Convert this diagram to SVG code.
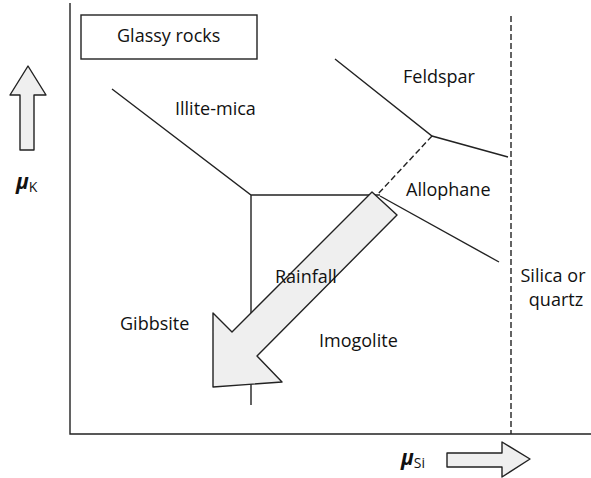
<svg xmlns="http://www.w3.org/2000/svg" width="591" height="478" viewBox="0 0 591 478">
<style>
.t{font-family:"Open Sans","Liberation Sans",sans-serif;font-size:18px;fill:#111}
.ln{stroke:#222;stroke-width:1.4;fill:none}
.ds{stroke:#222;stroke-width:1.4;fill:none;stroke-dasharray:6,3}
.ar{fill:#efefef;stroke:#222;stroke-width:1.4;stroke-linejoin:round}
.mu{font-family:"Open Sans","Liberation Sans",sans-serif;font-style:italic;font-weight:bold;font-size:21px;fill:#111}
.sub{font-family:"Open Sans","Liberation Sans",sans-serif;font-size:14px;fill:#111}
</style>
<rect width="591" height="478" fill="#fff"/>
<g id="connectors">
<path class="ln" d="M70 3V434H591"/>
<path class="ln" d="M112 89L251 195H380M251 195V405"/>
<path class="ln" d="M335 59L432 136L508 157"/>
<path class="ds" d="M432 136L378 194"/>
<path class="ln" d="M380 196L499 262"/>
<path class="ds" d="M511 16V434"/>
</g>
<g id="glassy-rocks">
<rect x="81" y="15" width="176" height="44" fill="#fff" stroke="#222" stroke-width="1.4"/>
<text class="t" x="117" y="42">Glassy rocks</text>
</g>
<g id="mu-k">
<polygon class="ar" points="28,66 46,95 34,95 34,150 20,150 20,95 10,95"/>
<text class="mu" x="16" y="189">μ<tspan class="sub" font-style="normal" font-weight="normal" dy="3">K</tspan></text>
</g>
<g id="illite-mica"><text class="t" x="175" y="115">Illite-mica</text></g>
<g id="feldspar"><text class="t" x="403" y="83">Feldspar</text></g>
<g id="allophane"><text class="t" x="406" y="196">Allophane</text></g>
<g id="gibbsite"><text class="t" x="120" y="330">Gibbsite</text></g>
<g id="imogolite"><text class="t" x="319" y="347">Imogolite</text></g>
<g id="silica"><text class="t" x="553" y="282" text-anchor="middle">Silica or</text><text class="t" x="556" y="306" text-anchor="middle">quartz</text></g>
<g id="rainfall">
<polygon class="ar" points="372,192 397,215 257,356 282,382 213,387 213,313 232,332"/>
<text class="t" x="275" y="283">Rainfall</text>
</g>
<g id="mu-si">
<text class="mu" x="401" y="465">μ<tspan class="sub" font-style="normal" font-weight="normal" dy="3">Si</tspan></text>
<polygon class="ar" points="447,453 502,453 502,442 530,459 502,477 502,467 447,467"/>
</g>
</svg>
